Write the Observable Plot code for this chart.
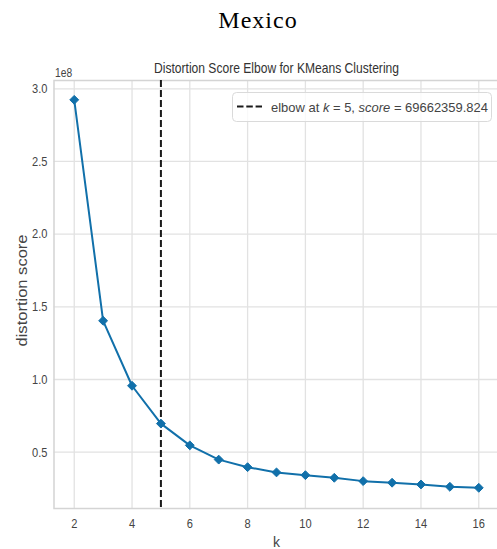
<!DOCTYPE html>
<html>
<head>
<meta charset="utf-8">
<script src="https://cdn.jsdelivr.net/npm/d3@7"></script>
<script src="https://cdn.jsdelivr.net/npm/@observablehq/plot@0.6"></script>
<style>
  html, body { margin: 0; padding: 0; background: #fff; }
  body { width: 497px; height: 549px; overflow: hidden; position: relative; }
  #country {
    position: absolute; left: 19px; top: 8px; width: 478px;
    text-align: center; font-family: "Liberation Serif", "Times New Roman", serif;
    font-size: 24px; line-height: 24px; letter-spacing: 1px; color: #000;
  }
  #chart { position: absolute; left: 0; top: 40px; }
  #chart svg { overflow: hidden; }
  #legend { position: absolute; left: 0; top: 0; pointer-events: none; }
</style>
</head>
<body>
<div id="country">Mexico</div>
<div id="chart"></div>
<svg id="legend" width="497" height="549"></svg>
<script>
// Distortion score (sum of squared distances) for each number of clusters k
const ks = [2, 3, 4, 5, 6, 7, 8, 9, 10, 11, 12, 13, 14, 15, 16];
const scores = [
  292400000, 140400000, 95700000, 69662359.824, 54700000, 44900000, 39700000,
  36100000, 34200000, 32400000, 30100000, 29000000, 27800000, 26200000, 25500000
];
const elbowK = 5;
const elbowScore = 69662359.824;

const xTicks = [2, 4, 6, 8, 10, 12, 14, 16];
const yTicks = [0.5e8, 1.0e8, 1.5e8, 2.0e8, 2.5e8, 3.0e8];

const chartTitle = "Distortion Score Elbow for KMeans Clustering";
const xLabel = "k";
const yLabel = "distortion score";
const yExponent = "1e8";

const lineColor = "#1170aa";
const sans = "'Liberation Sans', Arial, sans-serif";

const data = ks.map((k, i) => ({k, score: scores[i]}));
const yDomain = [0.1127e8, 3.057e8];

const chart = Plot.plot({
  width: 497,
  height: 509,
  marginTop: 40,
  marginBottom: 41,
  marginLeft: 53.5,
  marginRight: -1.5,
  style: {fontFamily: sans, background: "#fff", color: "#444"},
  x: {domain: [1.3, 16.7], range: [53.5, 498.5]},
  y: {domain: yDomain, range: [468, 40]},
  marks: [
    Plot.gridX(xTicks, {stroke: "#e2e2e2", strokeOpacity: 1, strokeWidth: 1.3}),
    Plot.gridY(yTicks, {stroke: "#e2e2e2", strokeOpacity: 1, strokeWidth: 1.3}),
    Plot.frame({stroke: "#d4d4d4", strokeWidth: 1.5}),
    Plot.axisX(xTicks, {tickSize: 0, tickPadding: 10, fontSize: 13.5, fill: "#444", label: null}),
    Plot.axisY(yTicks, {
      tickSize: 0, tickPadding: 6.5, fontSize: 13.5, fill: "#444", label: null,
      tickFormat: d => (d / 1e8).toFixed(1)
    }),
    Plot.ruleX([elbowK], {stroke: "#1a1a1a", strokeWidth: 2, strokeDasharray: "7,3"}),
    Plot.line(data, {x: "k", y: "score", stroke: lineColor, strokeWidth: 2}),
    Plot.dot(data, {x: "k", y: "score", symbol: "diamond2", r: 4, fill: lineColor, stroke: lineColor, strokeWidth: 1}),
    Plot.text([chartTitle], {frameAnchor: "top", lineAnchor: "bottom", dy: -8, fontSize: 14.5, fill: "#333"}),
    Plot.text([yExponent], {frameAnchor: "top-left", textAnchor: "start", lineAnchor: "bottom", dy: -3.3, dx: 1, fontSize: 12.5, fill: "#444"}),
    Plot.text([xLabel], {frameAnchor: "bottom", lineAnchor: "bottom", dy: 38, fontSize: 14, fill: "#444"}),
    Plot.text([yLabel], {frameAnchor: "left", textAnchor: "middle", rotate: -90, dx: -31.5, dy: -4, fontSize: 14.5, fill: "#444"})
  ]
});
document.getElementById("chart").appendChild(chart);

// Fit texts to their advance widths: horizontal labels are condensed,
// the rotated axis label is drawn slightly elongated
function fit(el, factor, fixed) {
  const w = el.getComputedTextLength();
  el.setAttribute("textLength", fixed ?? w * factor);
  el.setAttribute("lengthAdjust", "spacingAndGlyphs");
}
chart.querySelectorAll("text").forEach(t => {
  const s = t.textContent;
  if (s === xLabel) return;
  if (s === yLabel) fit(t, 1, 112);
  else if (s === chartTitle) fit(t, 1, 245);
  else fit(t, 0.82);
});

// Legend box for the elbow marker line
const legend = d3.select("#legend");
legend.append("rect")
  .attr("x", 232.5).attr("y", 92.5).attr("width", 259).attr("height", 29).attr("rx", 4)
  .attr("fill", "#fff").attr("fill-opacity", 0.8)
  .attr("stroke", "#dadada").attr("stroke-width", 1);
legend.append("line")
  .attr("x1", 237).attr("x2", 262).attr("y1", 106.5).attr("y2", 106.5)
  .attr("stroke", "#1a1a1a").attr("stroke-width", 2).attr("stroke-dasharray", "6.5,2.8");
const label = legend.append("text")
  .attr("x", 271).attr("y", 111.5)
  .attr("font-family", sans).attr("font-size", 13).attr("fill", "#444");
label.append("tspan").text("elbow at ");
label.append("tspan").attr("font-style", "italic").text("k");
label.append("tspan").text(` = ${elbowK}, `);
label.append("tspan").attr("font-style", "italic").text("score");
label.append("tspan").text(` = ${elbowScore.toFixed(3)}`);
label.attr("textLength", 217).attr("lengthAdjust", "spacingAndGlyphs");
</script>
</body>
</html>
